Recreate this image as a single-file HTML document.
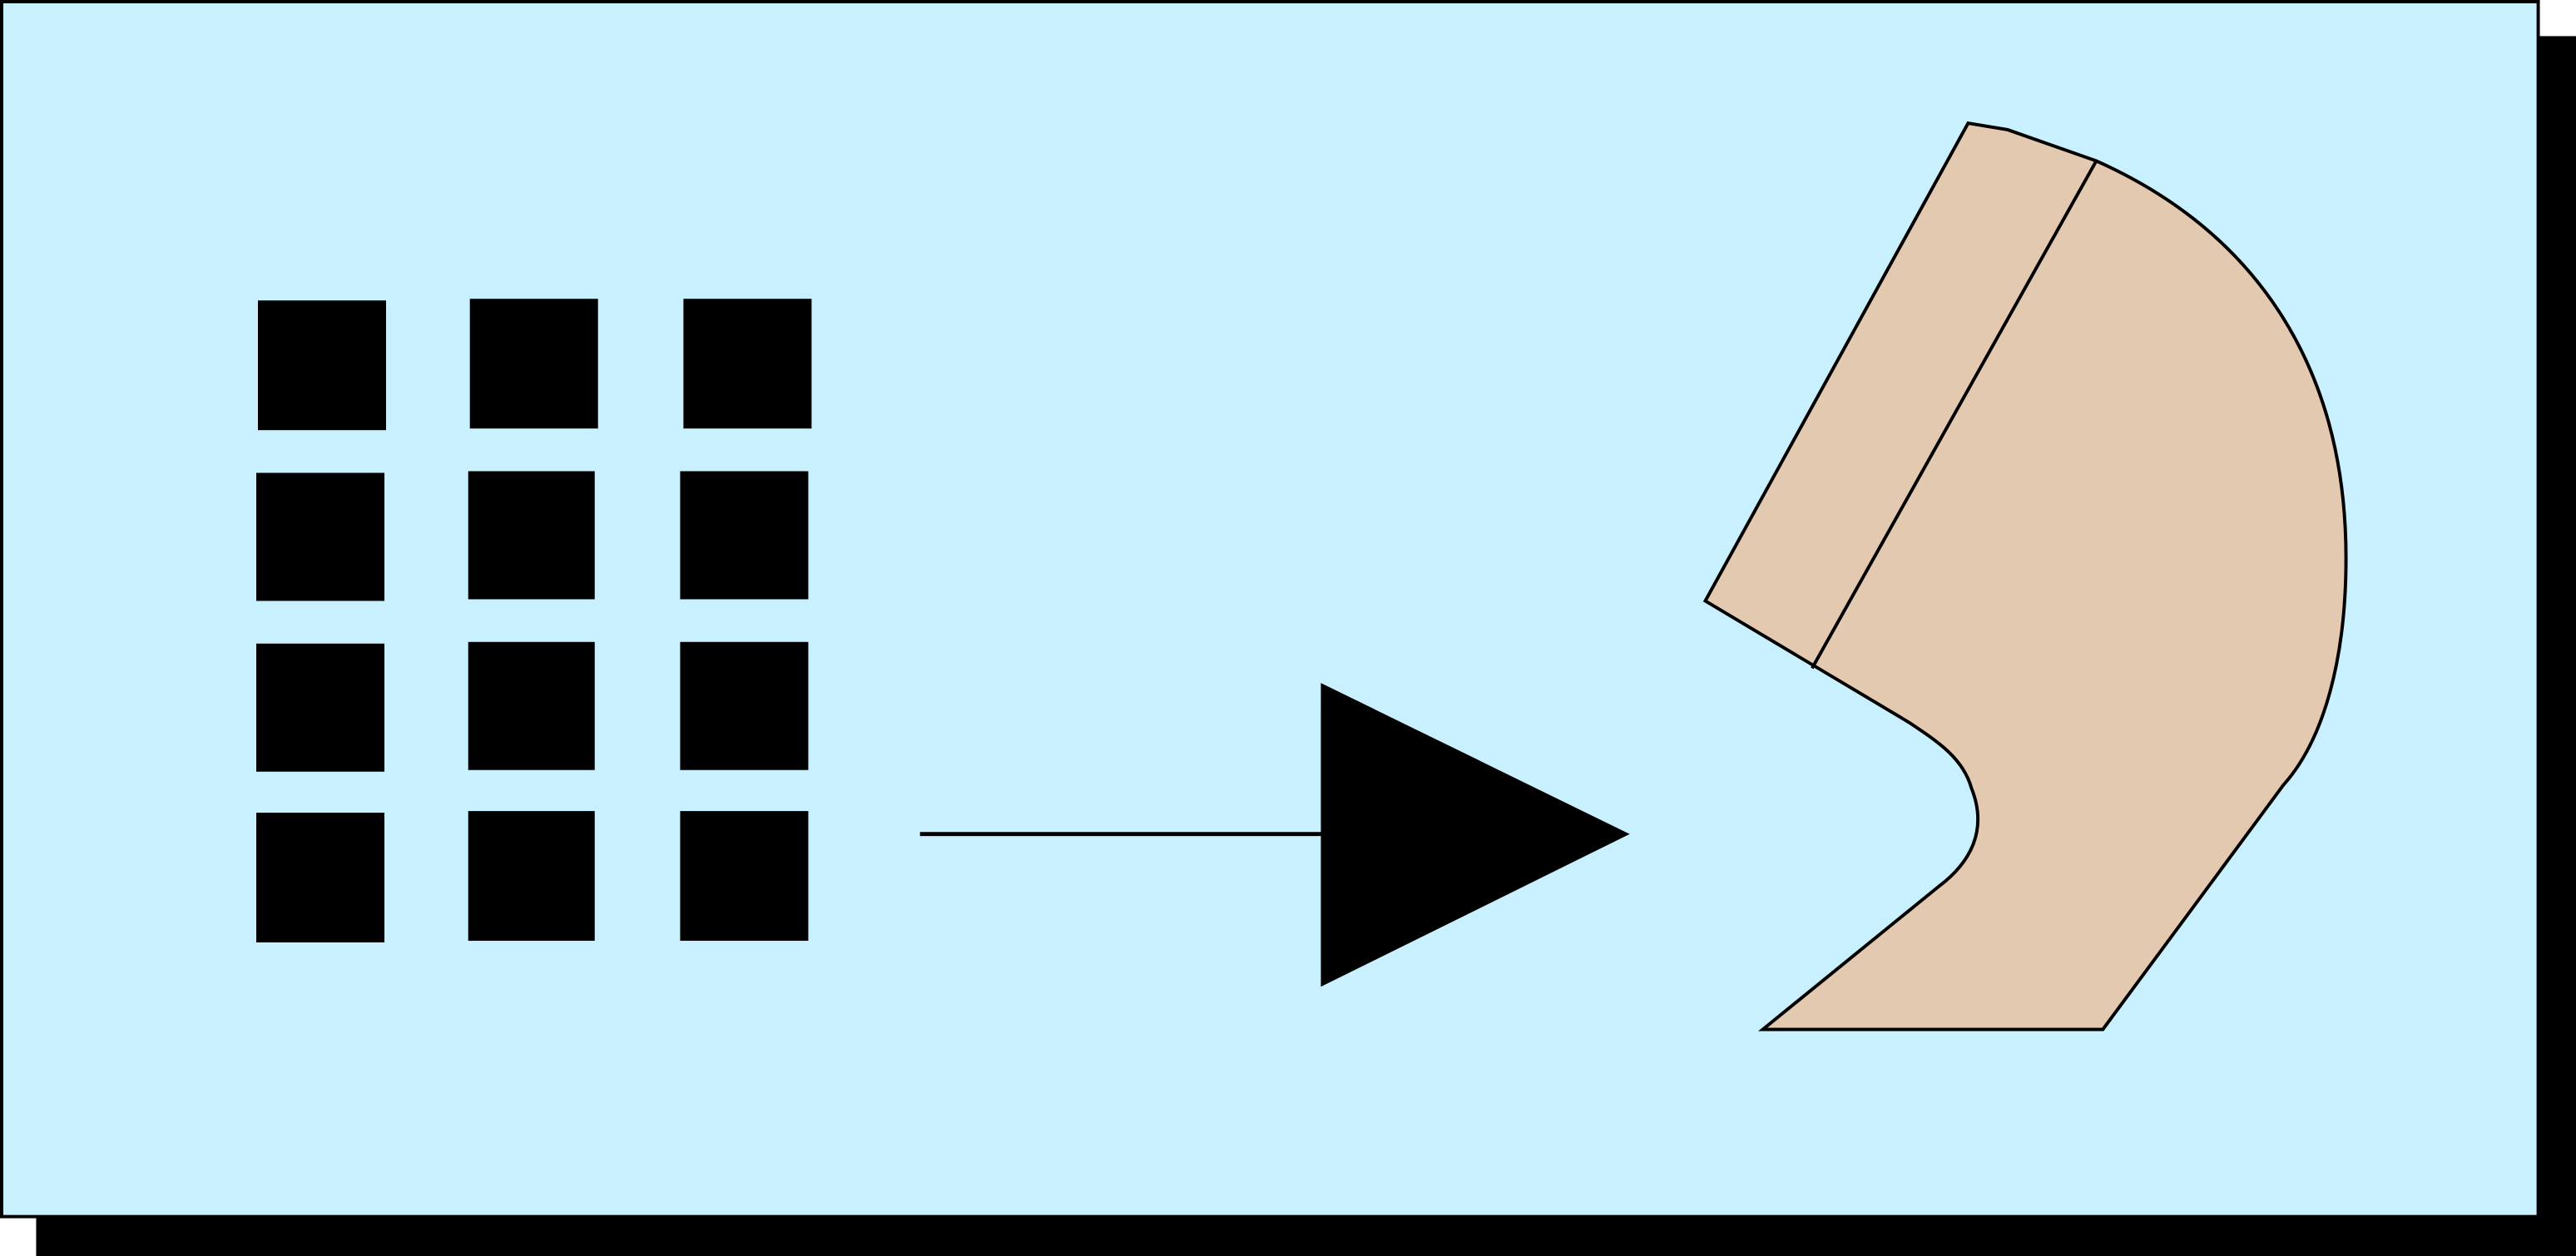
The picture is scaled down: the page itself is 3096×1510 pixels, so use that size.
<!DOCTYPE html>
<html><head><style>html,body{margin:0;padding:0;background:#fff;}svg{display:block;}</style></head>
<body>
<svg width="3096" height="1510" viewBox="0 0 1568 765" preserveAspectRatio="none" xmlns="http://www.w3.org/2000/svg">
<rect x="22" y="22" width="1546" height="743" fill="#000"/>
<rect x="1" y="1" width="1544" height="740" fill="#c9f0fe" stroke="#000" stroke-width="2"/>
<g fill="#000">
<rect x="157" y="183" width="78" height="79"/>
<rect x="286" y="182" width="78" height="79"/>
<rect x="416" y="182" width="78" height="79"/>
<rect x="156" y="288" width="78" height="78"/>
<rect x="285" y="287" width="77" height="78"/>
<rect x="414" y="287" width="78" height="78"/>
<rect x="156" y="392" width="78" height="78"/>
<rect x="285" y="391" width="77" height="78"/>
<rect x="414" y="391" width="78" height="78"/>
<rect x="156" y="495" width="78" height="79"/>
<rect x="285" y="494" width="77" height="79"/>
<rect x="414" y="494" width="78" height="79"/>
</g>
<line x1="560" y1="508" x2="804" y2="508" stroke="#000" stroke-width="2.5"/>
<polygon points="804,416 992,508 804,601" fill="#000"/>
<path d="M1198,75 L1222,79 L1276,98 C1370,140 1428,220 1428,340 C1428,400 1415,450 1390,478 L1280,627 L1073,627 L1180,540 C1200,525 1210,505 1200,480 C1195,462 1180,452 1162,440 L1038,366 Z" fill="#e2c9b0" stroke="#000" stroke-width="2"/>
<line x1="1276" y1="98" x2="1103" y2="407" stroke="#000" stroke-width="2"/>
</svg>
</body></html>
